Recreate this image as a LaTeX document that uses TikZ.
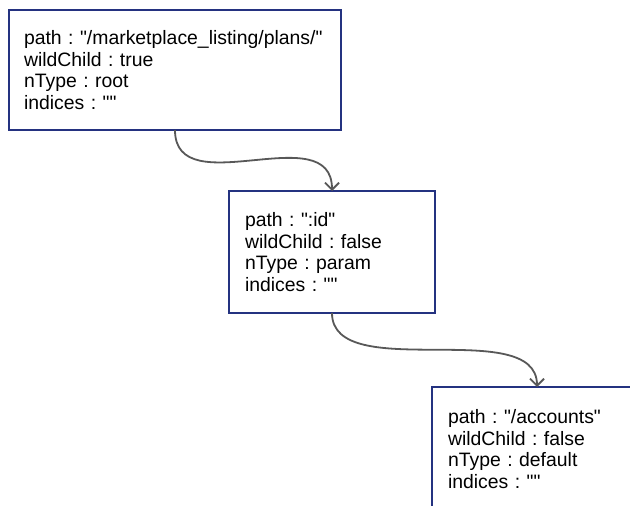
\documentclass[tikz,border=0pt]{standalone}
\usepackage{fontspec}
\setmainfont{Liberation Sans}[Ligatures=TeXOff]
\usetikzlibrary{arrows.meta}
\definecolor{boxline}{RGB}{36,50,128}
\definecolor{wire}{RGB}{88,88,88}
\tikzset{
  field/.style={draw=boxline, line width=2.8pt, fill=white, anchor=north west,
    outer sep=0pt, inner xsep=15pt, inner ysep=0pt, align=left,
    font=\fontsize{19.4}{21.7}\selectfont\frenchspacing},
  link/.style={draw=wire, line width=1.8pt,
    -{Straight Barb[length=7pt,width=14pt,line width=1.8pt]}}
}
\begin{document}
\begin{tikzpicture}[x=1pt,y=-1pt]
\clip (0,0) rectangle (630,506);
\fill[white] (0,0) rectangle (630,506);
\node[field, minimum width=332pt, minimum height=120pt, text width=302pt] (b1) at (9,10)
  {path : "/marketplace\_listing/plans/"\\wildChild : true\\nType : root\\indices : ""};
\node[field, minimum width=206pt, minimum height=122pt, text width=174pt] (b2) at (229,191)
  {path : ":id"\\wildChild : false\\nType : param\\indices : ""};
\node[field, minimum width=210pt, minimum height=124pt, text width=178pt] (b3) at (432,387)
  {path : "/accounts"\\wildChild : false\\nType : default\\indices : ""};
\draw[link] (b1.south) .. controls +(0,75) and +(0,-75) .. (b2.north);
\draw[link] (b2.south) .. controls +(0,72) and +(0,-72) .. (b3.north);
\end{tikzpicture}
\end{document}
